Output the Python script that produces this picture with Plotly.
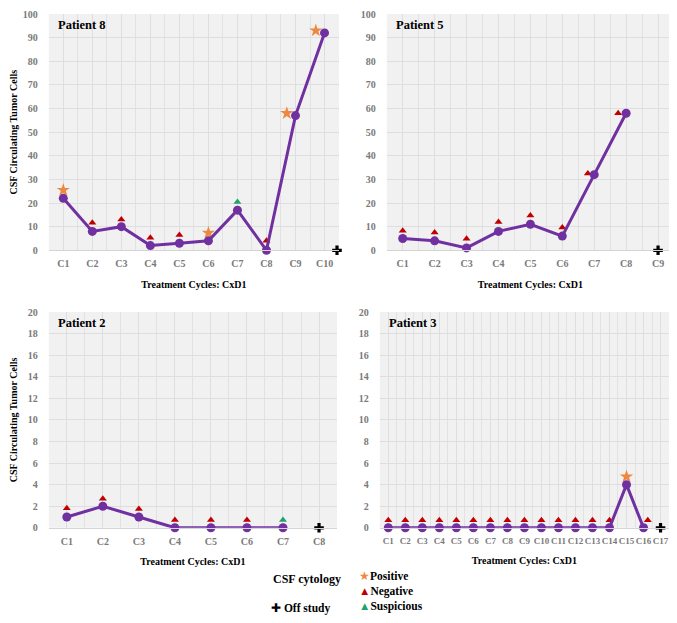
import plotly.graph_objects as go

# ---------------- data ----------------
p8_cycles = ["C1", "C2", "C3", "C4", "C5", "C6", "C7", "C8", "C9", "C10"]
p8_ctc = [22, 8, 10, 2, 3, 4, 17, 0, 57, 92]
p8_cyto = ["Positive", "Negative", "Negative", "Negative", "Negative", "Positive",
           "Suspicious", "Negative", "Positive", "Positive"]
p8_cyto_x = [0, 1, 2, 3, 4, 5, 6, 7, 7.7, 8.7]
p8_cyto_y = [25.5, 11.7, 13, 5.3, 6.5, 7.4, 20.4, 4, 58, 93]
p8_off = (9.43, 0)

p5_cycles = ["C1", "C2", "C3", "C4", "C5", "C6", "C7", "C8", "C9"]
p5_ctc = [5, 4, 1, 8, 11, 6, 32, 58]
p5_cyto = ["Negative"] * 8
p5_cyto_x = [0, 1, 2, 3, 4, 5, 5.8, 6.75]
p5_cyto_y = [8.3, 7.5, 4.9, 12, 14.7, 9.7, 32.5, 58]
p5_off = (8, 0)

p2_cycles = ["C1", "C2", "C3", "C4", "C5", "C6", "C7", "C8"]
p2_ctc = [1, 2, 1, 0, 0, 0, 0]
p2_cyto = ["Negative"] * 6 + ["Suspicious"]
p2_cyto_x = [0, 1, 2, 3, 4, 5, 6]
p2_cyto_y = [1.8, 2.7, 1.75, 0.72, 0.72, 0.72, 0.72]
p2_off = (7, 0)

p3_cycles = ["C%d" % i for i in range(1, 18)]
p3_ctc = [0] * 14 + [4, 0]
p3_cyto = ["Negative"] * 14 + ["Positive", "Negative"]
p3_cyto_x = list(range(14)) + [14, 15.25]
p3_cyto_y = [0.7] * 14 + [4.75, 0.7]
p3_off = (16, 0)

# page offset compensation (body margin of the html page)
OFF = 8
W, H = 677 - OFF, 623 - OFF


def px(v):
    return min(1.0, max(0.0, (v - OFF) / W))


def py(v):
    return min(1.0, max(0.0, 1 - (v - OFF) / H))


panels = [
    dict(name="Patient 8", cycles=p8_cycles, ctc=p8_ctc, cyto=p8_cyto, cx=p8_cyto_x, cy=p8_cyto_y,
         off=p8_off, ymax=100, dtick=10, xd=[px(45), px(337)], yd=[py(249), py(8)], ytitle=True, tf=10),
    dict(name="Patient 5", cycles=p5_cycles, ctc=p5_ctc, cyto=p5_cyto, cx=p5_cyto_x, cy=p5_cyto_y,
         off=p5_off, ymax=100, dtick=10, xd=[px(385), px(674)], yd=[py(249), py(8)], ytitle=False, tf=10),
    dict(name="Patient 2", cycles=p2_cycles, ctc=p2_ctc, cyto=p2_cyto, cx=p2_cyto_x, cy=p2_cyto_y,
         off=p2_off, ymax=20, dtick=2, xd=[px(45), px(335)], yd=[py(532), py(312)], ytitle=True, tf=10),
    dict(name="Patient 3", cycles=p3_cycles, ctc=p3_ctc, cyto=p3_cyto, cx=p3_cyto_x, cy=p3_cyto_y,
         off=p3_off, ymax=20, dtick=2, xd=[px(378), px(669)], yd=[py(532), py(312)], ytitle=False, tf=9),
]

style = {
    "Positive": dict(symbol="star", color="#EE8740", size=10),
    "Negative": dict(symbol="triangle-up", color="#C00000", size=7),
    "Suspicious": dict(symbol="triangle-up", color="#1FA36C", size=7),
}
PURPLE = "#7030A0"
SERIF = "Liberation Serif"

fig = go.Figure()
layout = dict(
    width=W, height=H, margin=dict(l=0, r=0, t=0, b=0),
    paper_bgcolor="white", plot_bgcolor="#f1f1f1", showlegend=False,
    font=dict(family=SERIF, size=11, color="black"),
)
annotations = []

for i, p in enumerate(panels):
    k = "" if i == 0 else str(i + 1)
    xa, ya = "x" + k, "y" + k
    n = len(p["cycles"])
    # cytology markers
    for cat, st in style.items():
        xs = [x for x, c in zip(p["cx"], p["cyto"]) if c == cat]
        ys = [y for y, c in zip(p["cy"], p["cyto"]) if c == cat]
        if xs:
            fig.add_trace(go.Scatter(x=xs, y=ys, mode="markers", xaxis=xa, yaxis=ya,
                                     marker=dict(symbol=st["symbol"], color=st["color"], size=st["size"]),
                                     cliponaxis=False, name=cat))
    # CTC line
    fig.add_trace(go.Scatter(x=list(range(len(p["ctc"]))), y=p["ctc"], mode="lines+markers",
                             xaxis=xa, yaxis=ya, line=dict(color=PURPLE, width=3),
                             marker=dict(color=PURPLE, size=9), cliponaxis=False, name="CTC"))
    # off study
    fig.add_trace(go.Scatter(x=[p["off"][0]], y=[p["off"][1]], mode="markers", xaxis=xa, yaxis=ya,
                             marker=dict(symbol="cross", color="black", size=8),
                             cliponaxis=False, name="Off study"))

    layout["xaxis" + k] = dict(
        domain=p["xd"], anchor=ya, range=[-0.5, n - 0.5],
        tickmode="array", tickvals=list(range(n)), ticktext=p["cycles"], tickangle=0,
        tickfont=dict(family=SERIF, size=p["tf"], color="#7a7a7a", weight="bold"),
        ticks="outside", ticklen=4, tickcolor="rgba(0,0,0,0)",
        showgrid=True, gridcolor="#dedede", gridwidth=1,
        minor=dict(tickmode="array", tickvals=[j + 0.5 for j in range(-1, n)],
                   showgrid=True, gridcolor="#e2e2e2"),
        zeroline=False, showline=True, linecolor="#d4d4d4", fixedrange=True,
        title=dict(text="Treatment Cycles: CxD1", standoff=12,
                   font=dict(family=SERIF, size=10, color="black", weight="bold")),
    )
    layout["yaxis" + k] = dict(
        domain=p["yd"], anchor=xa, range=[0, p["ymax"]], dtick=p["dtick"],
        tickfont=dict(family=SERIF, size=10, color="#7a7a7a", weight="bold"),
        ticks="outside", ticklen=8, tickcolor="rgba(0,0,0,0)",
        showgrid=True, gridcolor="#dedede", zeroline=False, showline=False, fixedrange=True,
        title=dict(text="CSF Circulating Tumor Cells" if p["ytitle"] else "", standoff=8,
                   font=dict(family=SERIF, size=10, color="black", weight="bold")),
    )
    annotations.append(dict(text="<b>" + p["name"] + "</b>", xref=xa + " domain", yref=ya + " domain",
                            x=0.025, y=0.99, xanchor="left", yanchor="top", showarrow=False,
                            font=dict(family=SERIF, size=12.5, color="black")))

# legend (as text)
leg_font = dict(family=SERIF, size=11.5, color="black")
annotations += [
    dict(text="<b>CSF cytology</b>", x=px(269), y=py(584), xref="paper", yref="paper",
         xanchor="left", yanchor="middle", showarrow=False, font=dict(family=SERIF, size=12, color="black")),
    dict(text=('<span style="color:#EE8740">★</span><b>Positive</b><br>'
               '<span style="color:#C00000">▲</span><b>Negative</b><br>'
               '<span style="color:#1FA36C">▲</span><b>Suspicious</b>'),
         x=px(355), y=py(597), align="left",
         xref="paper", yref="paper", xanchor="left", yanchor="middle", showarrow=False, font=leg_font),
    dict(text='✚ <b>Off study</b>', x=px(267), y=py(614),
         xref="paper", yref="paper", xanchor="left", yanchor="middle", showarrow=False, font=leg_font),
]
layout["annotations"] = annotations
fig.update_layout(**layout)
fig.write_html("out.html")
